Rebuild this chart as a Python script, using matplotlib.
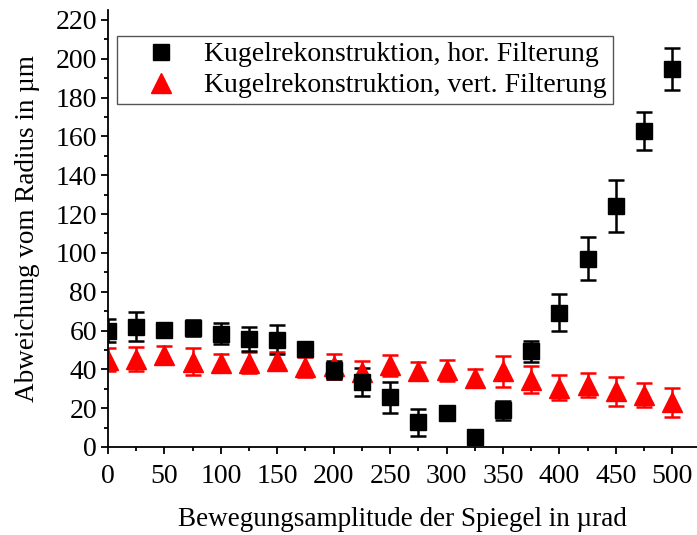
import matplotlib
matplotlib.use("Agg")
import matplotlib.pyplot as plt
from matplotlib.lines import Line2D
from matplotlib.ticker import MultipleLocator

plt.rcParams['font.family'] = ['Liberation Serif', 'DejaVu Serif']

# Bewegungsamplitude in µrad
x = [0, 25, 50, 75, 100, 125, 150, 175, 200, 225, 250, 275, 300, 325, 350,
     375, 400, 425, 450, 475, 500]

# Kugelrekonstruktion, horizontale Filterung
y_hor = [60, 62, 60.5, 61.3, 58.3, 55.7, 55.2, 50.5, 39.7, 33.5, 25.7, 12.8,
         17.7, 5.3, 18.8, 49.3, 69.2, 97, 124, 162.8, 194.7]
err_hor = [6, 7.5, 2, 4, 5.5, 6, 7.5, 3, 4.5, 7, 8, 7, 2, 2, 5, 5.3, 9.7,
           11, 13.5, 9.8, 11]

# Kugelrekonstruktion, vertikale Filterung
y_vert = [45, 45.5, 47.6, 44, 43.5, 43.5, 44.3, 41.2, 41.5, 38.5, 42, 39.2,
          39.5, 35.5, 39, 34.6, 30.6, 32, 28.8, 26.8, 23]
err_vert = [6, 6.2, 4.5, 6.9, 4.6, 5.4, 4.6, 4.9, 6.5, 5.6, 5.4, 4.6, 5.4,
            4.5, 8, 7, 6.3, 6, 7.5, 6.4, 7.5]

fig = plt.figure(figsize=(6.97, 5.35), dpi=100)
ax = fig.add_axes([0.155, 0.1645, 0.845, 0.8165])

ax.errorbar(x, y_vert, yerr=err_vert, fmt='^', color='red', ms=14,
            elinewidth=1.8, capsize=6, capthick=1.8)
ax.errorbar(x, y_hor, yerr=err_hor, fmt='s', color='black', ms=11.5,
            elinewidth=1.8, capsize=6, capthick=1.8)

ax.set_xlim(0, 522)
ax.set_ylim(0, 225)
ax.xaxis.set_major_locator(MultipleLocator(50))
ax.xaxis.set_minor_locator(MultipleLocator(25))
ax.yaxis.set_major_locator(MultipleLocator(20))
ax.yaxis.set_minor_locator(MultipleLocator(10))

for s in ['top', 'right']:
    ax.spines[s].set_visible(False)
for s in ['left', 'bottom']:
    ax.spines[s].set_linewidth(1.3)

ax.tick_params(which='major', direction='out', length=5, width=1.3,
               labelsize=20, pad=3)
ax.tick_params(axis='x', which='major', pad=7)
ax.tick_params(which='minor', direction='out', length=3, width=1.3)

ax.set_xlabel('Bewegungsamplitude der Spiegel in µrad', fontsize=19.5,
              labelpad=13)
ax.set_ylabel('Abweichung vom Radius in µm', fontsize=19.5, labelpad=11)

handles = [
    Line2D([], [], marker='s', ls='none', color='black', ms=12),
    Line2D([], [], marker='^', ls='none', color='red', ms=15),
]
labels = ['Kugelrekonstruktion, hor. Filterung',
          'Kugelrekonstruktion, vert. Filterung']
leg = ax.legend(handles, labels, loc='upper left', bbox_to_anchor=(0.015, 0.94),
                borderaxespad=0, fontsize=20, fancybox=False, framealpha=1,
                edgecolor='#555555', labelspacing=0.2, handletextpad=0.15,
                borderpad=0.2, handlelength=2.8)
leg.get_frame().set_linewidth(1.0)

fig.savefig('out.png', dpi=100)
